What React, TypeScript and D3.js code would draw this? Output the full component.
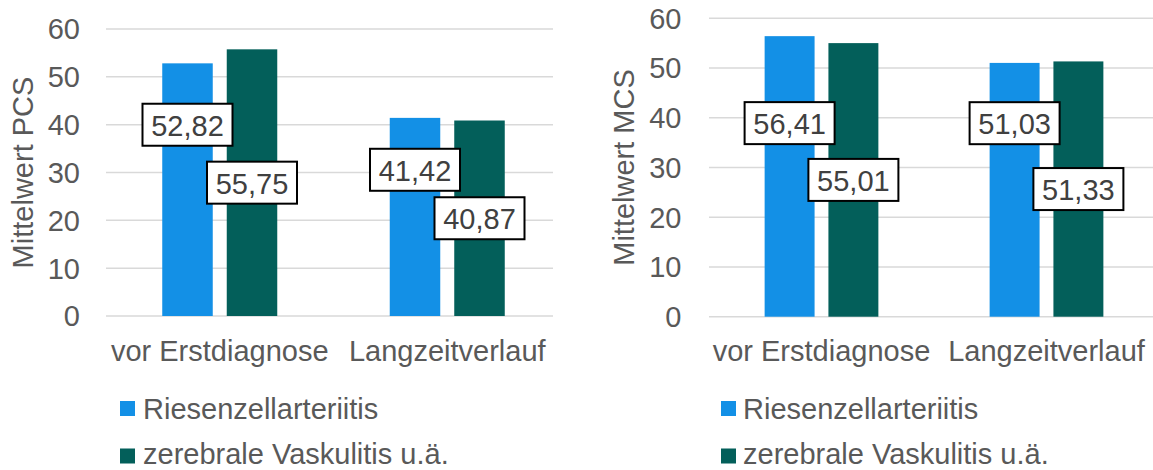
import React from "react";
import * as d3 from "d3";

const categories = ["vor Erstdiagnose", "Langzeitverlauf"];
const seriesNames = ["Riesenzellarteriitis", "zerebrale Vaskulitis u.ä."];
const pcsRiesenzell = [52.82, 41.42];
const pcsZerebral = [55.75, 40.87];
const mcsRiesenzell = [56.41, 51.03];
const mcsZerebral = [55.01, 51.33];
const yTicks = [0, 10, 20, 30, 40, 50, 60];

// label anchor as a fraction of the bar height (labels were placed by hand in the original)
const pcsLabelFrac = [
  [0.757, 0.738],
  [0.5, 0.5],
];
const mcsLabelFrac = [
  [0.69, 0.7625],
  [0.5, 0.5],
];

const COLORS = ["#1390E6", "#035F5A"];
const FONT = "'Liberation Sans', Arial, sans-serif";
const TEXT = "#595959";

const locale = d3.formatLocale({ decimal: ",", thousands: ".", grouping: [3], currency: ["", "€"] });
const fmt = locale.format(".2f");

type Layout = {
  band: [number, number];
  grid: [number, number];
  y: [number, number];
  tickRight: number;
  titleX: number;
  title: string;
  catBaseline: number;
  legendSquareX: number;
  legendTextX: number;
};

function Panel({ series, labelFrac, L }: { series: number[][]; labelFrac: number[][]; L: Layout }) {
  const x0 = d3.scaleBand<string>().domain(categories).range(L.band).paddingInner(0).paddingOuter(0);
  const x1 = d3
    .scaleBand<string>()
    .domain(seriesNames)
    .range([0, x0.bandwidth()])
    .paddingInner(0.217)
    .paddingOuter(0.872);
  const y = d3.scaleLinear().domain([0, 60]).range(L.y);
  const midY = (L.y[0] + L.y[1]) / 2;
  const boxW = 90;
  const boxH = 42;

  return (
    <g>
      {yTicks.map((t) => (
        <g key={t}>
          <line x1={L.grid[0]} x2={L.grid[1]} y1={y(t)} y2={y(t)} stroke="#D9D9D9" strokeWidth={1.5} />
          <text
            x={L.tickRight}
            y={y(t)}
            dy="0.36em"
            textAnchor="end"
            fontSize={29}
            fontFamily={FONT}
            fill={TEXT}
          >
            {t}
          </text>
        </g>
      ))}
      <text
        transform={`translate(${L.titleX},${midY}) rotate(-90)`}
        textAnchor="middle"
        fontSize={29}
        fontFamily={FONT}
        fill={TEXT}
      >
        {L.title}
      </text>
      {series.map((vals, si) =>
        vals.map((v, ci) => {
          const bx = (x0(categories[ci]) as number) + (x1(seriesNames[si]) as number);
          return (
            <rect
              key={`b${si}-${ci}`}
              x={bx}
              y={y(v)}
              width={x1.bandwidth()}
              height={y(0) - y(v)}
              fill={COLORS[si]}
            />
          );
        })
      )}
      {series.map((vals, si) =>
        vals.map((v, ci) => {
          const cx = (x0(categories[ci]) as number) + (x1(seriesNames[si]) as number) + x1.bandwidth() / 2;
          const cy = y(v * labelFrac[si][ci]);
          return (
            <g key={`l${si}-${ci}`}>
              <rect
                x={cx - boxW / 2}
                y={cy - boxH / 2}
                width={boxW}
                height={boxH}
                fill="#FFFFFF"
                stroke="#000000"
                strokeWidth={2}
              />
              <text
                x={cx}
                y={cy + 11}
                textAnchor="middle"
                fontSize={29}
                fontFamily={FONT}
                fill="#404040"
              >
                {fmt(v)}
              </text>
            </g>
          );
        })
      )}
      {categories.map((c) => (
        <text
          key={c}
          x={(x0(c) as number) + x0.bandwidth() / 2}
          y={L.catBaseline}
          textAnchor="middle"
          fontSize={29}
          fontFamily={FONT}
          fill={TEXT}
        >
          {c}
        </text>
      ))}
      {seriesNames.map((s, i) => (
        <g key={s}>
          <rect x={L.legendSquareX} y={401 + i * 47.5} width={15} height={15} fill={COLORS[i]} />
          <text x={L.legendTextX} y={418.5 + i * 45.5} fontSize={29} fontFamily={FONT} fill={TEXT}>
            {s}
          </text>
        </g>
      ))}
    </g>
  );
}

export default function App() {
  const left: Layout = {
    band: [106, 561],
    grid: [106, 553],
    y: [316, 29],
    tickRight: 80,
    titleX: 33,
    title: "Mittelwert PCS",
    catBaseline: 361,
    legendSquareX: 120,
    legendTextX: 143,
  };
  const right: Layout = {
    band: [709, 1159],
    grid: [709, 1153],
    y: [316.7, 18.3],
    tickRight: 681.5,
    titleX: 634,
    title: "Mittelwert MCS",
    catBaseline: 361,
    legendSquareX: 721,
    legendTextX: 743,
  };
  return (
    <svg
      width={1153}
      height={470}
      style={{ position: "absolute", left: 0, top: 0, background: "#FFFFFF" }}
    >
      <rect width={1153} height={470} fill="#FFFFFF" />
      <Panel series={[pcsRiesenzell, pcsZerebral]} labelFrac={pcsLabelFrac} L={left} />
      <Panel series={[mcsRiesenzell, mcsZerebral]} labelFrac={mcsLabelFrac} L={right} />
    </svg>
  );
}
